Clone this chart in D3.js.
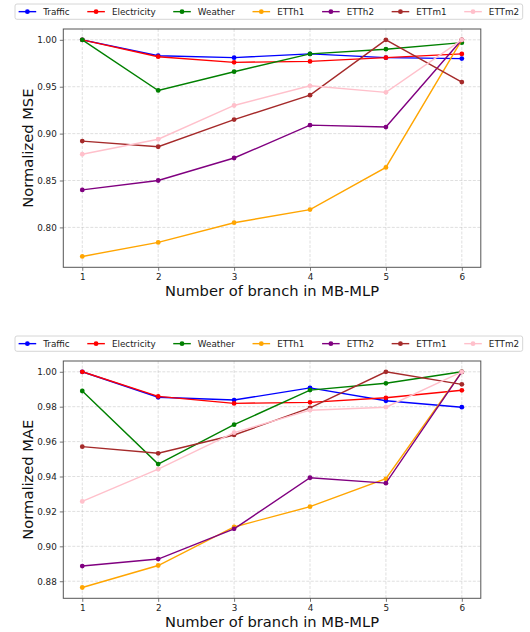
<!DOCTYPE html>
<html><head><meta charset="utf-8">
<script src="https://cdn.jsdelivr.net/npm/d3@7"></script>
<style>
body{margin:0;background:#fff;}
svg{display:block;font-family:"DejaVu Sans",sans-serif;}
</style>
</head><body>
<svg id="chart" width="530" height="632"></svg>
<script>
// ---------- data ----------
const branches = [1, 2, 3, 4, 5, 6];
const seriesNames = ["Traffic", "Electricity", "Weather", "ETTh1", "ETTh2", "ETTm1", "ETTm2"];
const seriesColors = ["blue", "red", "green", "orange", "purple", "brown", "pink"];

const mseTraffic     = [1.000, 0.983, 0.981, 0.985, 0.981, 0.980];
const mseElectricity = [1.000, 0.982, 0.976, 0.977, 0.981, 0.985];
const mseWeather     = [1.000, 0.946, 0.966, 0.985, 0.990, 0.997];
const mseETTh1       = [0.769, 0.784, 0.805, 0.819, 0.864, 1.000];
const mseETTh2       = [0.840, 0.850, 0.874, 0.909, 0.907, 1.000];
const mseETTm1       = [0.892, 0.886, 0.915, 0.941, 1.000, 0.955];
const mseETTm2       = [0.878, 0.894, 0.930, 0.951, 0.944, 1.000];

const maeTraffic     = [1.000, 0.9854, 0.9838, 0.9908, 0.9834, 0.9797];
const maeElectricity = [1.000, 0.9859, 0.9819, 0.9825, 0.9851, 0.9894];
const maeWeather     = [0.989, 0.9471, 0.9697, 0.9895, 0.9934, 1.000];
const maeETTh1       = [0.8764, 0.8890, 0.9111, 0.9227, 0.9387, 1.000];
const maeETTh2       = [0.8887, 0.8927, 0.9100, 0.9393, 0.9362, 1.000];
const maeETTm1       = [0.9571, 0.9533, 0.9638, 0.9793, 1.000, 0.9928];
const maeETTm2       = [0.9257, 0.9442, 0.9651, 0.9780, 0.9797, 1.000];

const mseTicks = [0.80, 0.85, 0.90, 0.95, 1.00];
const maeTicks = [0.88, 0.90, 0.92, 0.94, 0.96, 0.98, 1.00];
const xLabel = "Number of branch in MB-MLP";

const panels = [
  {top: 29, bottom: 267.3, ylabel: "Normalized MSE", ticks: mseTicks,
   series: [mseTraffic, mseElectricity, mseWeather, mseETTh1, mseETTh2, mseETTm1, mseETTm2]},
  {top: 361, bottom: 598.3, ylabel: "Normalized MAE", ticks: maeTicks,
   series: [maeTraffic, maeElectricity, maeWeather, maeETTh1, maeETTh2, maeETTm1, maeETTm2]}
];

// ---------- drawing ----------
const svg = d3.select("#chart");
const left = 63.3, right = 480.8;
const fs = 8.8;

panels.forEach(p => {
  const all = p.series.flat();
  const [mn, mx] = d3.extent(all);
  const pad = (mx - mn) * 0.05;
  const x = d3.scaleLinear().domain([0.75, 6.25]).range([left, right]);
  const y = d3.scaleLinear().domain([mn - pad, mx + pad]).range([p.bottom, p.top]);
  const g = svg.append("g");

  // grid
  g.append("g").selectAll("line").data(branches).join("line")
    .attr("x1", d => x(d)).attr("x2", d => x(d))
    .attr("y1", p.top).attr("y2", p.bottom)
    .attr("stroke", "#b0b0b0").attr("stroke-opacity", 0.5)
    .attr("stroke-width", 0.8).attr("stroke-dasharray", "3,1.5");
  g.append("g").selectAll("line").data(p.ticks).join("line")
    .attr("x1", left).attr("x2", right)
    .attr("y1", d => y(d)).attr("y2", d => y(d))
    .attr("stroke", "#b0b0b0").attr("stroke-opacity", 0.5)
    .attr("stroke-width", 0.8).attr("stroke-dasharray", "3,1.5");

  // axes
  const xAxis = d3.axisBottom(x).tickValues(branches).tickFormat(d3.format("d"))
    .tickSize(3.5).tickPadding(3);
  const yAxis = d3.axisLeft(y).tickValues(p.ticks).tickFormat(d3.format(".2f"))
    .tickSize(3.5).tickPadding(3);
  const gx = g.append("g").attr("transform", `translate(0,${p.bottom})`).call(xAxis);
  const gy = g.append("g").attr("transform", `translate(${left},0)`).call(yAxis);
  [gx, gy].forEach(a => {
    a.select(".domain").remove();
    a.selectAll("line").attr("stroke", "#555").attr("stroke-width", 0.8);
    a.selectAll("text").attr("fill", "#222").style("font-size", fs + "px")
      .style("font-family", '"DejaVu Sans",sans-serif');
  });

  // lines
  const line = d3.line().x((d, i) => x(branches[i])).y(d => y(d));
  p.series.forEach((s, k) => {
    const sg = g.append("g");
    sg.append("path").datum(s).attr("d", line).attr("fill", "none")
      .attr("stroke", seriesColors[k]).attr("stroke-width", 1.4);
    sg.selectAll("circle").data(s).join("circle")
      .attr("cx", (d, i) => x(branches[i])).attr("cy", d => y(d))
      .attr("r", 2.4).attr("fill", seriesColors[k]);
  });

  // frame
  g.append("rect").attr("x", left).attr("y", p.top)
    .attr("width", right - left).attr("height", p.bottom - p.top)
    .attr("fill", "none").attr("stroke", "#555").attr("stroke-width", 1);

  // labels
  g.append("text").attr("x", (left + right) / 2).attr("y", p.bottom + 29)
    .attr("text-anchor", "middle").style("font-size", "14.7px").attr("fill", "#111")
    .text(xLabel);
  g.append("text")
    .attr("transform", `translate(33.3,${(p.top + p.bottom) / 2}) rotate(-90)`)
    .attr("text-anchor", "middle").style("font-size", "14.7px").attr("fill", "#111")
    .text(p.ylabel);

  // legend
  const lgTop = p.top - 25, lgH = 15.3;
  const lg = g.append("g");
  const box = lg.append("rect").attr("x", 15).attr("y", lgTop)
    .attr("width", 512).attr("height", lgH).attr("rx", 2)
    .attr("fill", "#fff").attr("fill-opacity", 0.8)
    .attr("stroke", "#cccccc").attr("stroke-width", 0.8);
  let cx = 18.6;
  const cy = lgTop + lgH / 2;
  seriesNames.forEach((nm, k) => {
    lg.append("line").attr("x1", cx).attr("x2", cx + 2 * fs)
      .attr("y1", cy).attr("y2", cy)
      .attr("stroke", seriesColors[k]).attr("stroke-width", 1.4);
    lg.append("circle").attr("cx", cx + fs).attr("cy", cy).attr("r", 2.4)
      .attr("fill", seriesColors[k]);
    const t = lg.append("text").attr("x", cx + 2.8 * fs).attr("y", cy)
      .attr("dy", "0.36em").style("font-size", fs + "px").attr("fill", "#222").text(nm);
    const w = t.node().getComputedTextLength();
    cx = cx + 2.8 * fs + w + 2 * fs;
  });
  const endX = cx - 2 * fs + 3.5;
  box.attr("width", endX - 15);
});
</script>
</body></html>
